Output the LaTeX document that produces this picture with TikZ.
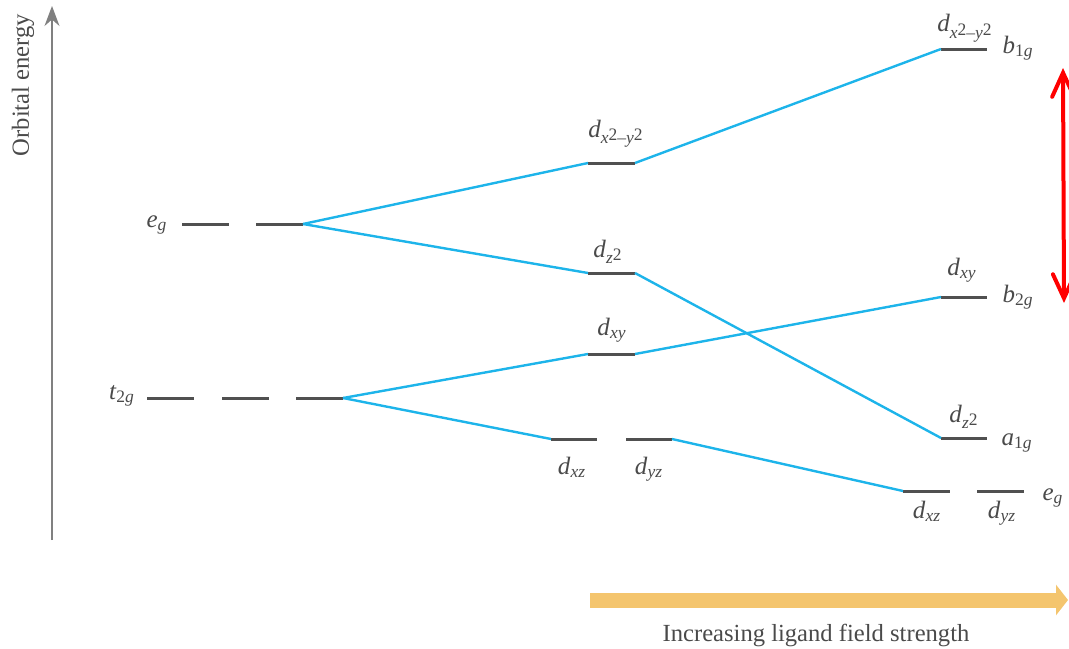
\documentclass[tikz,border=0pt]{standalone}
\usepackage{fontspec}
\setmainfont{Liberation Serif}
\usetikzlibrary{arrows.meta}

\definecolor{levelgray}{HTML}{505050}
\definecolor{corrblue}{HTML}{1DB4EA}
\definecolor{fieldorange}{HTML}{F4C56E}
\definecolor{textgray}{HTML}{4A4A4A}

% orbital label: letter with italic subscript
\newcommand{\orb}[2]{\textit{#1}\textsubscript{\textit{#2}}}
\newcommand{\sqr}{\raisebox{0.45ex}{\upshape 2}}

\begin{document}
\begin{tikzpicture}[x=0.5pt, y=-0.5pt,
            level/.style={color=levelgray, line width=1.5pt},
            corr/.style={color=corrblue, line width=1.2pt},
            orb/.style={color=textgray, anchor=base, font=\fontsize{12.5}{14}\selectfont},
            axislabel/.style={color=textgray, font=\fontsize{12.3}{14}\selectfont},
            axis/.style={color=gray, line width=0.7pt, -{Stealth[length=10pt, width=7.5pt]}},
            fieldarrow/.style={color=fieldorange, line width=7.5pt, -{Triangle[length=6pt, width=15pt]}},
            gaparrow/.style={color=red, line width=2pt, line cap=round,
                {Straight Barb[length=12pt, width=11pt, line cap=round]}-{Straight Barb[length=12pt, width=11pt, line cap=round]}}
        ]
            \useasboundingbox (0,0) rectangle (1069,648);

            % energy axis
            \coordinate (axis-bot) at (52,540);
            \coordinate (axis-top) at (52,6);
            \draw[axis] (axis-bot) -- (axis-top);
            \node[axislabel, rotate=90] (axis-name) at (23,85) {Orbital energy};

            % octahedral levels (left)
            \coordinate (eg-end) at (303,224);
            \coordinate (t2g-end) at (343,398);
            \foreach \x in {182, 256}{
                \draw[level] (\x,224) -- ++(47,0);
            }
            \foreach \x in {147, 222, 296}{
                \draw[level] (\x,398) -- ++(47,0);
            }
            \node[orb] (lab-eg) at (157,227) {\orb{e}{g}};
            \node[orb] (lab-t2g) at (122,399) {\orb{t}{\upshape 2\itshape g}};

            % tetragonal levels (middle)
            \coordinate (m-x2y2-l) at (588,163);
            \coordinate (m-x2y2-r) at (635,163);
            \coordinate (m-z2-l) at (588,273);
            \coordinate (m-z2-r) at (635,273);
            \coordinate (m-xy-l) at (588,354);
            \coordinate (m-xy-r) at (635,354);
            \coordinate (m-xz-l) at (551,439);
            \coordinate (m-xz-r) at (597,439);
            \coordinate (m-yz-l) at (626,439);
            \coordinate (m-yz-r) at (672,439);
            \draw[level] (m-x2y2-l) -- (m-x2y2-r);
            \draw[level] (m-z2-l) -- (m-z2-r);
            \draw[level] (m-xy-l) -- (m-xy-r);
            \draw[level] (m-xz-l) -- (m-xz-r);
            \draw[level] (m-yz-l) -- (m-yz-r);
            \node[orb] (lab-m-x2y2) at (616,137) {\orb{d}{x\sqr–y\sqr}};
            \node[orb] (lab-m-z2) at (608,257) {\orb{d}{z\sqr}};
            \node[orb] (lab-m-xy) at (612,335) {\orb{d}{xy}};
            \node[orb] (lab-m-xz) at (572,474) {\orb{d}{xz}};
            \node[orb] (lab-m-yz) at (649,474) {\orb{d}{yz}};

            % square planar levels (right)
            \coordinate (r-x2y2-l) at (941,49);
            \coordinate (r-x2y2-r) at (987,49);
            \coordinate (r-xy-l) at (941,297);
            \coordinate (r-xy-r) at (987,297);
            \coordinate (r-z2-l) at (941,438);
            \coordinate (r-z2-r) at (987,438);
            \coordinate (r-xz-l) at (903,491);
            \coordinate (r-xz-r) at (950,491);
            \coordinate (r-yz-l) at (977,491);
            \coordinate (r-yz-r) at (1024,491);
            \draw[level] (r-x2y2-l) -- (r-x2y2-r);
            \draw[level] (r-xy-l) -- (r-xy-r);
            \draw[level] (r-z2-l) -- (r-z2-r);
            \draw[level] (r-xz-l) -- (r-xz-r);
            \draw[level] (r-yz-l) -- (r-yz-r);
            \node[orb] (lab-r-x2y2) at (965,32) {\orb{d}{x\sqr–y\sqr}};
            \node[orb] (lab-b1g) at (1018,53) {\orb{b}{\upshape 1\itshape g}};
            \node[orb] (lab-r-xy) at (962,275) {\orb{d}{xy}};
            \node[orb] (lab-b2g) at (1018,302) {\orb{b}{\upshape 2\itshape g}};
            \node[orb] (lab-r-z2) at (964,422) {\orb{d}{z\sqr}};
            \node[orb] (lab-a1g) at (1017,445) {\orb{a}{\upshape 1\itshape g}};
            \node[orb] (lab-r-xz) at (927,518) {\orb{d}{xz}};
            \node[orb] (lab-r-yz) at (1002,518) {\orb{d}{yz}};
            \node[orb] (lab-r-eg) at (1053,500) {\orb{e}{g}};

            % correlation lines
            \draw[corr] (eg-end) -- (m-x2y2-l);
            \draw[corr] (eg-end) -- (m-z2-l);
            \draw[corr] (t2g-end) -- (m-xy-l);
            \draw[corr] (t2g-end) -- (m-xz-l);
            \draw[corr] (m-x2y2-r) -- (r-x2y2-l);
            \draw[corr] (m-z2-r) -- (r-z2-l);
            \draw[corr] (m-xy-r) -- (r-xy-l);
            \draw[corr] (m-yz-r) -- (r-xz-l);

            % splitting gap
            \coordinate (gap-top) at (1063,68);
            \coordinate (gap-bot) at (1064,303);
            \draw[gaparrow] (gap-bot) -- (gap-top);

            % ligand field
            \coordinate (field-start) at (590,600);
            \coordinate (field-end) at (1068,600);
            \draw[fieldarrow] (field-start) -- (field-end);
            \node[axislabel, anchor=base] (field-name) at (816,641) {Increasing ligand field strength};

        \end{tikzpicture}
\end{document}
